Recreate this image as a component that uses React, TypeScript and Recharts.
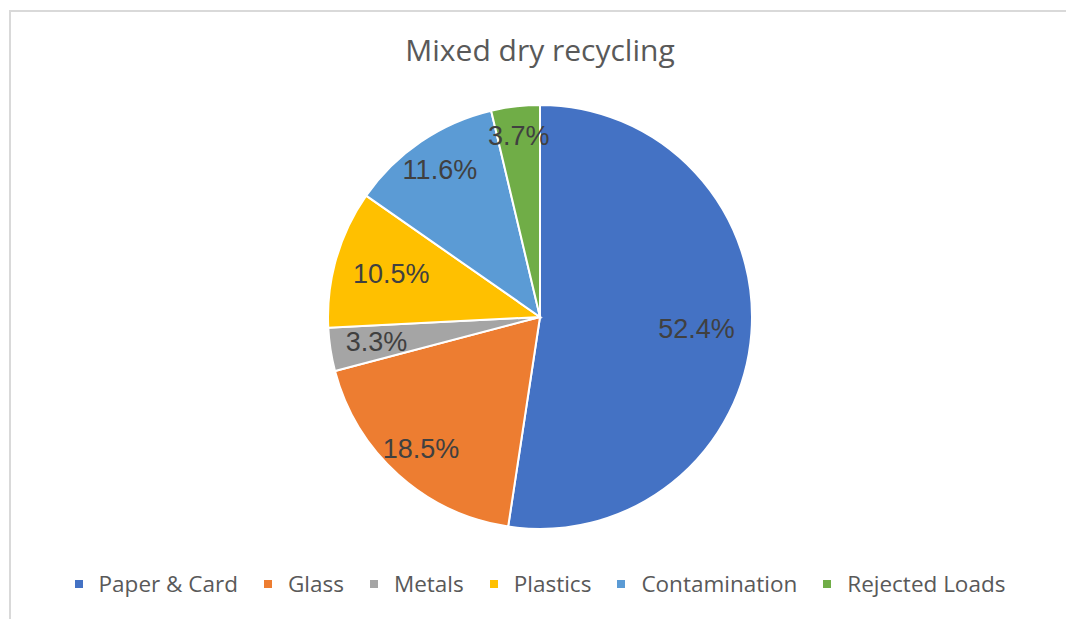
import React from 'react';
import { PieChart, Pie, Cell, Legend } from 'recharts';

const categories = ['Paper & Card', 'Glass', 'Metals', 'Plastics', 'Contamination', 'Rejected Loads'];
const shares = [52.4, 18.5, 3.3, 10.5, 11.6, 3.7];
const colors = ['#4472C4', '#ED7D31', '#A5A5A5', '#FFC000', '#5B9BD5', '#70AD47'];

const data = categories.map((name, i) => ({ name, value: shares[i] }));

// label distance from centre, as a share of the radius (Excel "best fit" look)
const labelReach = [0.74, 0.84, 0.78, 0.73, 0.84, 0.86];

const RADIAN = Math.PI / 180;

const renderLabel = (props: any) => {
  const { cx, cy, midAngle, outerRadius, index, value } = props;
  const r = outerRadius * labelReach[index];
  const x = cx + r * Math.cos(-midAngle * RADIAN);
  const y = cy + r * Math.sin(-midAngle * RADIAN);
  return (
    <text
      x={x}
      y={y}
      fill="#404040"
      textAnchor="middle"
      dominantBaseline="central"
      fontFamily="'Liberation Sans', Arial, sans-serif"
      fontSize={27}
    >
      {value.toFixed(1)}%
    </text>
  );
};

const renderLegend = () => (
  <div
    style={{
      display: 'flex',
      justifyContent: 'center',
      alignItems: 'center',
      fontFamily: "'Open Sans', sans-serif",
      fontSize: 22.5,
      color: '#595959',
    }}
  >
    {categories.map((name, i) => (
      <div key={name} style={{ display: 'flex', alignItems: 'center', marginRight: i < categories.length - 1 ? 26 : 0 }}>
        <span style={{ width: 8, height: 8, background: colors[i], marginRight: 16, display: 'inline-block' }} />
        <span>{name}</span>
      </div>
    ))}
  </div>
);

export default function App() {
  return (
    <div
      style={{
        position: 'fixed',
        left: 9,
        top: 10,
        width: 1100,
        height: 700,
        borderTop: '2px solid #d9d9d9',
        borderLeft: '2px solid #d9d9d9',
        background: '#fff',
      }}
    >
      <div
        style={{
          position: 'absolute',
          left: 0,
          width: 1058,
          top: 17,
          textAlign: 'center',
          fontFamily: "'Open Sans', sans-serif",
          fontSize: 30,
          color: '#595959',
        }}
      >
        Mixed dry recycling
      </div>
      <PieChart width={1058} height={620}>
        <Pie
          data={data}
          dataKey="value"
          nameKey="name"
          cx={524}
          cy={300}
          outerRadius={212}
          startAngle={90}
          endAngle={-270}
          stroke="#fff"
          strokeWidth={2}
          label={renderLabel}
          labelLine={false}
          isAnimationActive={false}
        >
          {data.map((d, i) => (
            <Cell key={d.name} fill={colors[i]} />
          ))}
        </Pie>
        <Legend
          content={renderLegend}
          wrapperStyle={{ position: 'absolute', top: 556, left: 0, width: 1058 }}
        />
      </PieChart>
    </div>
  );
}
